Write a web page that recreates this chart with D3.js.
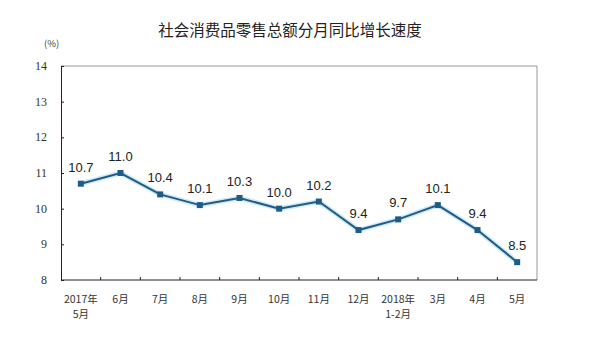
<!DOCTYPE html>
<html><head><meta charset="utf-8">
<script src="https://cdn.jsdelivr.net/npm/d3@7"></script>
<style>body{margin:0;background:#fff}</style>
</head><body>
<svg id="c" width="593" height="358"></svg>
<script>
const categories = ["2017年\n5月","6月","7月","8月","9月","10月","11月","12月","2018年\n1-2月","3月","4月","5月"];
const values = [10.7, 11.0, 10.4, 10.1, 10.3, 10.0, 10.2, 9.4, 9.7, 10.1, 9.4, 8.5];
const yTicks = [8, 9, 10, 11, 12, 13, 14];
const title = "社会消费品零售总额分月同比增长速度";
const unit = "(%)";

const svg = d3.select("#c");
const L = 61, R = 537, T = 66, B = 280;
const x = d3.scaleBand().domain(categories).range([L, R]);
const y = d3.scaleLinear().domain([8, 14]).range([B, T]);

svg.append("text").attr("x", 290).attr("y", 36).attr("text-anchor", "middle")
  .style("font-family", "Noto Sans CJK SC").style("font-size", "15.5px").attr("fill", "#222").text(title);
svg.append("text").attr("x", 44).attr("y", 47)
  .style("font-family", "Noto Sans CJK SC").style("font-size", "9.5px").attr("fill", "#444").text(unit);

// frame top/right
svg.append("path").attr("d", `M${L},${T}H${R}V${B}`).attr("fill", "none").attr("stroke", "#999").attr("stroke-width", 1);

// y axis
const ya = svg.append("g").attr("transform", `translate(${L},0)`)
  .call(d3.axisRight(y).tickValues(yTicks).tickSize(3).tickFormat(""));
ya.select(".domain").attr("stroke", "#222");
ya.selectAll("line").attr("stroke", "#222");
svg.append("g").selectAll("text").data(yTicks).join("text")
  .attr("x", 47).attr("y", d => y(d) + 4).attr("text-anchor", "end")
  .style("font-family", "Liberation Serif").style("font-size", "12px").attr("fill", "#333").text(d => d);

// x axis
const bounds = categories.slice(1).map(c => x(c));
svg.append("line").attr("x1", L).attr("x2", R).attr("y1", B).attr("y2", B).attr("stroke", "#222");
svg.append("g").selectAll("line").data(bounds).join("line")
  .attr("x1", d => d).attr("x2", d => d).attr("y1", B).attr("y2", B - 3).attr("stroke", "#222");
const xl = svg.append("g").selectAll("text").data(categories).join("text")
  .attr("x", d => x(d) + x.bandwidth() / 2).attr("y", 303).attr("text-anchor", "middle")
  .style("font-family", "Noto Sans CJK SC").style("font-size", "10.5px").attr("fill", "#333");
xl.each(function(d) {
  const parts = d.split("\n");
  d3.select(this).selectAll("tspan").data(parts).join("tspan")
    .attr("x", x(d) + x.bandwidth() / 2).attr("dy", (p, i) => i ? 15 : 0).text(p => p);
});

const cx = (d, i) => x(categories[i]) + x.bandwidth() / 2;
const line = d3.line().x((d, i) => cx(d, i)).y(d => y(d));
svg.append("path").datum(values).attr("d", line).attr("fill", "none")
  .attr("stroke", "#cfeaf7").attr("stroke-width", 5).attr("stroke-linejoin", "round");
svg.append("path").datum(values).attr("d", line).attr("fill", "none")
  .attr("stroke", "#1f5b87").attr("stroke-width", 2);
svg.append("g").selectAll("rect").data(values).join("rect")
  .attr("x", (d, i) => cx(d, i) - 3).attr("y", d => y(d) - 3).attr("width", 6).attr("height", 6)
  .attr("fill", "#1f5b87");
svg.append("g").selectAll("text").data(values).join("text")
  .attr("x", (d, i) => cx(d, i)).attr("y", d => y(d) - 12).attr("text-anchor", "middle")
  .style("font-family", "Liberation Sans").style("font-size", "13px").attr("fill", "#222")
  .text(d => d.toFixed(1));
</script>
</body></html>
